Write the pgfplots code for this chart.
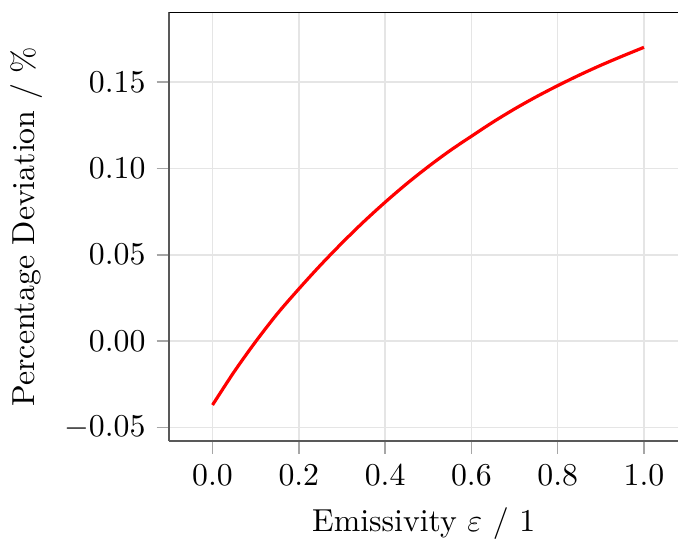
\documentclass[border=0pt]{standalone}
\usepackage{pgfplots}
\pgfplotsset{compat=1.18}
\pgfplotstableread{
x y
0.00 -0.0370
0.05 -0.0178
0.10 -0.0003
0.15 0.0158
0.20 0.0302
0.25 0.0439
0.30 0.0568
0.35 0.0690
0.40 0.0804
0.45 0.0911
0.50 0.1010
0.55 0.1102
0.60 0.1186
0.65 0.1268
0.70 0.1344
0.75 0.1414
0.80 0.1479
0.85 0.1540
0.90 0.1597
0.95 0.1650
1.00 0.1701
}\datatable
\begin{document}
\begin{tikzpicture}
\begin{axis}[
  scale only axis, width=160pt, height=135pt,
  xmin=-0.1, xmax=1.079, ymin=-0.058, ymax=0.1905,
  axis lines*=left,
  axis line style={black!65, line width=0.6pt},
  tick style={black!35, line width=0.5pt},
  tick align=outside, major tick length=4pt,
  grid=major, major grid style={black!10, line width=0.5pt},
  xtick={0,0.2,0.4,0.6,0.8,1.0},
  ytick={-0.05,0,0.05,0.1,0.15},
  xticklabel style={/pgf/number format/.cd, fixed, fixed zerofill, precision=1},
  yticklabel style={/pgf/number format/.cd, fixed, fixed zerofill, precision=2},
  xlabel={Emissivity $\varepsilon$ / 1},
  ylabel={Percentage Deviation / \%},
]
\draw[black, line width=0.6pt] (rel axis cs:0,1) -- (rel axis cs:1,1);
\addplot[red, line width=1pt, no marks, smooth] table[x=x, y=y] {\datatable};
\end{axis}
\path ([yshift=3.8pt]current axis.north);
\end{tikzpicture}
\end{document}
